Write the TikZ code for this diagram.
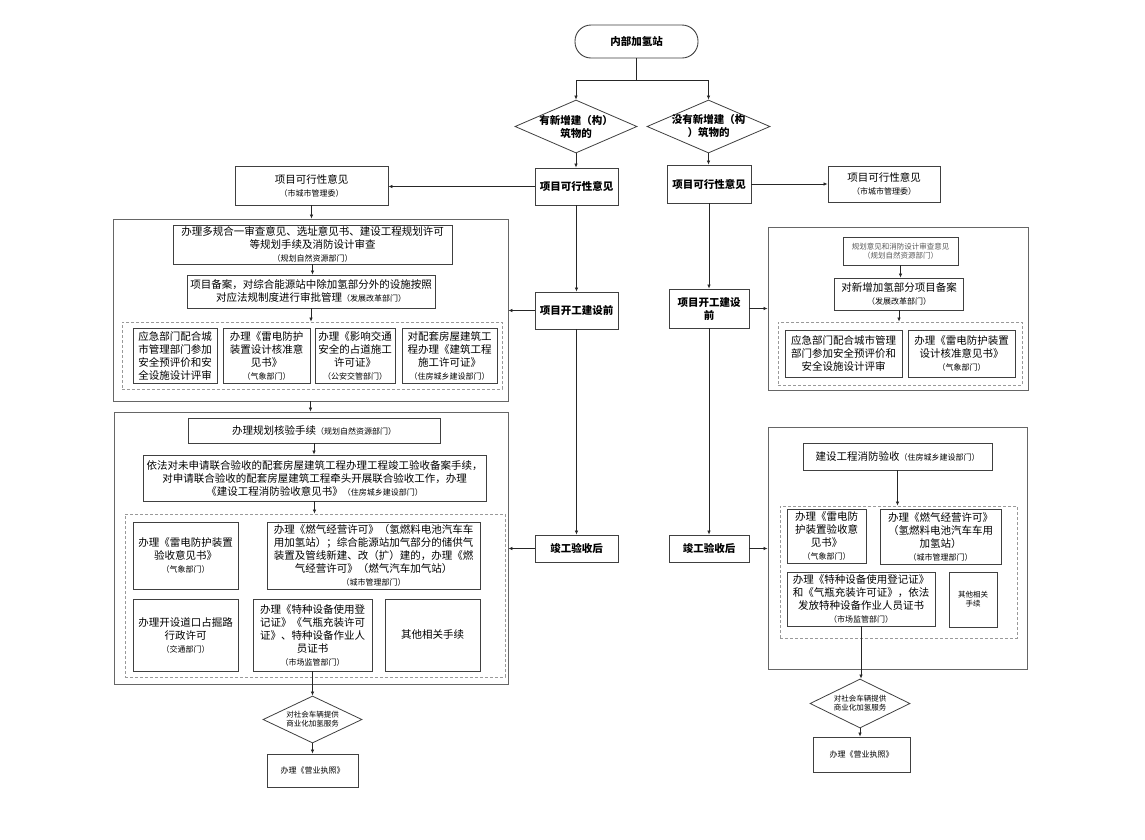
\documentclass[tikz,border=0pt]{standalone}
\usepackage{fontspec}
\setmainfont{Noto Sans CJK SC}
\usetikzlibrary{positioning,arrows.meta,shapes.geometric}
\tikzset{
    every node/.style={
        font=\fontsize{10.5}{13}\selectfont
    },
    block/.style={
        shape=rectangle,
        draw=black!75,
        line width=0.9pt,
        align=center,
        inner sep=1pt
    },
    stage/.style={
        block,
        font=\fontsize{10.5}{13}\selectfont\bfseries
    },
    decision/.style={
        shape=diamond,
        draw=black!75,
        line width=0.8pt,
        align=center,
        aspect=2.3,
        inner sep=-3pt
    },
    group/.style={
        shape=rectangle,
        draw=black!60,
        line width=0.9pt
    },
    subgroup/.style={
        shape=rectangle,
        draw=black!40,
        line width=0.8pt,
        dash pattern=on 3pt off 2pt
    },
    sz/.style 2 args={
        minimum width=#1pt,
        minimum height=#2pt
    }
}
\newcommand{\dept}[1]{{\fontsize{8}{9.5}\selectfont （#1）}}

\begin{document}
\begin{tikzpicture}[
			x=1pt, y=-1pt,
			arr/.style={-{Latex[length=4pt,width=3.5pt]}, draw=black!85, line width=0.7pt},
			small/.style={font=\fontsize{7.5}{9}\selectfont}
			]
			\useasboundingbox[fill=white] (0,0) rectangle (1145,839);
			
			\node (start) at (636.5,41.5) [stage, rounded corners=16pt, sz={123}{33}] {内部加氢站};
			\node (yes) at (576,126.5) [decision, font=\fontsize{10.5}{13}\selectfont\bfseries, sz={122}{53}] {有新增建（构）\\筑物的};
			\node (no) at (708.5,126.5) [decision, font=\fontsize{10.5}{13}\selectfont\bfseries, sz={123}{53}] {没有新增建（构\\）筑物的};
			
			\node (kx1) at (576.5,186.5) [stage, sz={83}{37}] {项目可行性意见};
			\node (kx2) at (709,184) [stage, sz={84}{38}] {项目可行性意见};
			\node (kg1) at (576.5,310.5) [stage, sz={83}{37}] {项目开工建设前};
			\node (kg2) at (709,308.5) [stage, sz={80}{39}] {项目开工建设\\前};
			\node (jg1) at (576.5,548.5) [stage, sz={83}{27}] {竣工验收后};
			\node (jg2) at (709,548.5) [stage, sz={80}{27}] {竣工验收后};
			
			\node (fa1) at (311.5,185.5) [block, sz={153}{39}] {项目可行性意见\\\dept{市城市管理委}};
			\node (fa2) at (884,184) [block, sz={112}{36}] {项目可行性意见\\\dept{市城市管理委}};
			
			\node (grpA) at (310.5,310) [group, sz={395}{182}] {};
			\node (a1) at (312.5,244.5) [block, sz={279}{39}] {办理多规合一审查意见、选址意见书、建设工程规划许可\\等规划手续及消防设计审查\\\dept{规划自然资源部门}};
			\node (a2) at (311,291.5) [block, sz={248}{33}] {项目备案，对综合能源站中除加氢部分外的设施按照\\对应法规制度进行审批管理\dept{发展改革部门}};
			\node (dashA) at (312,355.5) [subgroup, sz={380}{67}] {};
			\node (b1) at (175,355.5) [block, sz={84}{55}] {应急部门配合城\\市管理部门参加\\安全预评价和安\\全设施设计评审};
			\node (b2) at (266.5,355.5) [block, sz={87}{55}] {办理《雷电防护\\装置设计核准意\\见书》\\\dept{气象部门}};
			\node (b3) at (355,355.5) [block, sz={80}{55}] {办理《影响交通\\安全的占道施工\\许可证》\\\dept{公安交管部门}};
			\node (b4) at (449.5,355.5) [block, sz={95}{55}] {对配套房屋建筑工\\程办理《建筑工程\\施工许可证》\\\dept{住房城乡建设部门}};
			
			\node (grpB) at (311,548) [group, sz={394}{272}] {};
			\node (g1) at (314,430.5) [block, sz={252}{25}] {办理规划核验手续\dept{规划自然资源部门}};
			\node (g2) at (314.5,478) [block, sz={343}{46}] {依法对未申请联合验收的配套房屋建筑工程办理工程竣工验收备案手续，\\对申请联合验收的配套房屋建筑工程牵头开展联合验收工作，办理\\《建设工程消防验收意见书》\dept{住房城乡建设部门}};
			\node (dashB) at (315,595.5) [subgroup, sz={380}{163}] {};
			\node (h1) at (185.5,555.5) [block, sz={105}{67}] {办理《雷电防护装置\\验收意见书》\\\dept{气象部门}};
			\node (h2) at (373.5,555.5) [block, sz={213}{67}] {办理《燃气经营许可》（氢燃料电池汽车车\\用加氢站）；综合能源站加气部分的储供气\\装置及管线新建、改（扩）建的，办理《燃\\气经营许可》（燃气汽车加气站）\\\dept{城市管理部门}};
			\node (h3) at (185.5,635) [block, sz={105}{72}] {办理开设道口占掘路\\行政许可\\\dept{交通部门}};
			\node (h4) at (312.5,635) [block, sz={119}{72}] {办理《特种设备使用登\\记证》《气瓶充装许可\\证》、特种设备作业人\\员证书\\\dept{市场监管部门}};
			\node (h5) at (432.5,635) [block, sz={95}{72}] {其他相关手续};
			
			\node (sv1) at (312.5,719.5) [decision, small, aspect=2, inner sep=0pt, sz={99}{47}] {对社会车辆提供\\商业化加氢服务};
			\node (yy1) at (312.5,770.5) [block, font=\fontsize{8}{9.5}\selectfont, sz={91}{33}] {办理《营业执照》};
			
			\node (grpC) at (898,308.5) [group, sz={260}{163}] {};
			\node (c1) at (900.5,251) [block, small, text=black!65, sz={115}{28}] {规划意见和消防设计审查意见\\（规划自然资源部门）};
			\node (c2) at (899,294) [block, sz={129}{32}] {对新增加氢部分项目备案\\\dept{发展改革部门}};
			\node (dashC) at (900,353.5) [subgroup, sz={244}{63}] {};
			\node (d1) at (843.5,353.5) [block, sz={117}{47}] {应急部门配合城市管理\\部门参加安全预评价和\\安全设施设计评审};
			\node (d2) at (961.5,353.5) [block, sz={107}{47}] {办理《雷电防护装置\\设计核准意见书》\\\dept{气象部门}};
			
			\node (grpD) at (897.5,548) [group, sz={259}{242}] {};
			\node (e1) at (897.5,456.5) [block, sz={189}{27}] {建设工程消防验收\dept{住房城乡建设部门}};
			\node (dashD) at (898.5,572) [subgroup, sz={237}{132}] {};
			\node (f1) at (826.5,536) [block, sz={79}{54}] {办理《雷电防\\护装置验收意\\见书》\\\dept{气象部门}};
			\node (f2) at (940.5,536.5) [block, sz={121}{55}] {办理《燃气经营许可》\\（氢燃料电池汽车车用\\加氢站）\\\dept{城市管理部门}};
			\node (f3) at (861,599) [block, sz={148}{54}] {办理《特种设备使用登记证》\\和《气瓶充装许可证》，依法\\发放特种设备作业人员证书\\\dept{市场监管部门}};
			\node (f4) at (973,599.5) [block, small, sz={48}{55}] {其他相关\\手续};
			
			\node (sv2) at (860,703.5) [decision, small, aspect=2, inner sep=0pt, sz={100}{49}] {对社会车辆提供\\商业化加氢服务};
			\node (yy2) at (861.5,754.5) [block, font=\fontsize{8}{9.5}\selectfont, sz={97}{35}] {办理《营业执照》};
			
			\draw [arr] (start.south) -- ++(0,22) -| (yes.north);
			\draw [arr] (start.south) -- ++(0,22) -| (no.north);
			\draw [arr] (yes.south) -- (yes.south |- kx1.north);
			\draw [arr] (no.south) -- (no.south |- kx2.north);
			\draw [arr] (kx1.west) -- (kx1.west -| fa1.east);
			\draw [arr] (kx2.east) -- (kx2.east -| fa2.west);
			\draw [arr] (fa1.south) -- (fa1.south |- grpA.north);
			\draw [arr] (kx1.south) -- (kg1.north);
			\draw [arr] (kg1.west) -- (kg1.west -| grpA.east);
			\draw [arr] (kg1.south) -- (jg1.north);
			\draw [arr] (jg1.west) -- (jg1.west -| grpB.east);
			\draw [arr] (grpA.south) -- (grpA.south |- grpB.north);
			\draw [arr] (a1.south) -- (a1.south |- a2.north);
			\draw [arr] (a2.south) -- (a2.south |- dashA.north);
			\draw [arr] (g1.south) -- (g1.south |- g2.north);
			\draw [arr] (g2.south) -- (g2.south |- dashB.north);
			\draw [arr] (h4.south) -- (h4.south |- sv1.north);
			\draw [arr] (sv1.south) -- (sv1.south |- yy1.north);
			
			\draw [arr] (kx2.south) -- (kg2.north);
			\draw [arr] (kg2.east) -- (kg2.east -| grpC.west);
			\draw [arr] (kg2.south) -- (jg2.north);
			\draw [arr] (jg2.east) -- (jg2.east -| grpD.west);
			\draw [arr] (c1.south) -- (c1.south |- c2.north);
			\draw [arr] (c2.south) -- (c2.south |- dashC.north);
			\draw [arr] (e1.south) -- (e1.south |- dashD.north);
			\draw [arr] (f3.south) -- (f3.south |- sv2.north);
			\draw [arr] (sv2.south) -- (sv2.south |- yy2.north);
		\end{tikzpicture}
\end{document}
